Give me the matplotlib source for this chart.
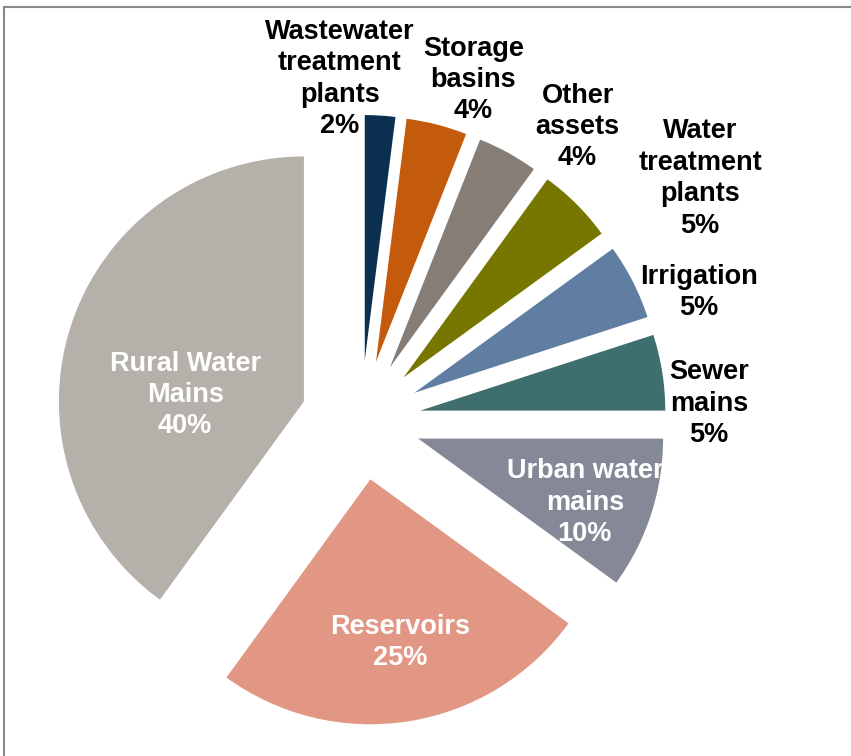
import matplotlib
matplotlib.use("Agg")
import matplotlib.pyplot as plt
from matplotlib.lines import Line2D

# Share of asset value by asset class
categories = ["Wastewater\ntreatment\nplants", "Storage\nbasins", "Other\nassets",
              "Water\ntreatment\nplants", "Irrigation", "Sewer\nmains",
              "Urban water\nmains", "Reservoirs", "Rural Water\nMains"]
shares = [2, 4, 4, 5, 5, 5, 10, 25, 40]

colors = ["#0A2F4F", "#C45A0B", "#857D76", "#777700", "#5F7EA2",
          "#3E6F6E", "#858997", "#E29785", "#B5B0AA"]
# text colour and anchor (in pie radius units) for each label
label_colors = ["black"] * 6 + ["white"] * 3
label_pos = [(-0.086, 1.392), (0.459, 1.388), (0.884, 1.196), (1.384, 0.986),
             (1.380, 0.520), (1.420, 0.067), (0.914, -0.337), (0.159, -0.908),
             (-0.718, 0.102)]

W, H, dpi = 851, 756, 100
cx, cy, r = 361, 420, 245  # pie centre and radius in pixels

fig = plt.figure(figsize=(W / dpi, H / dpi), dpi=dpi)
ax = fig.add_axes([0, 0, 1, 1])
ax.pie(shares, colors=colors, startangle=90, counterclock=False,
       explode=[0.245] * len(shares), radius=1.0,
       wedgeprops=dict(linewidth=0))
ax.set_xlim(-cx / r, (W - cx) / r)
ax.set_ylim((cy - H) / r, cy / r)
ax.set_aspect("equal")
ax.axis("off")

for name, val, col, (x, y) in zip(categories, shares, label_colors, label_pos):
    ax.text(x, y, f"{name}\n{val}%", ha="center", va="center",
            multialignment="center", color=col, fontsize=19.5,
            fontweight="bold", family="Liberation Sans", linespacing=1.27)

# thin frame along the top and left edges
fig.add_artist(Line2D([4 / W, 1], [1 - 6.5 / H, 1 - 6.5 / H], color="#8A8A8A", lw=1.5,
                      transform=fig.transFigure))
fig.add_artist(Line2D([4 / W, 4 / W], [0, 1 - 6.5 / H], color="#8A8A8A", lw=1.5,
                      transform=fig.transFigure))

fig.savefig("out.png", dpi=dpi)
